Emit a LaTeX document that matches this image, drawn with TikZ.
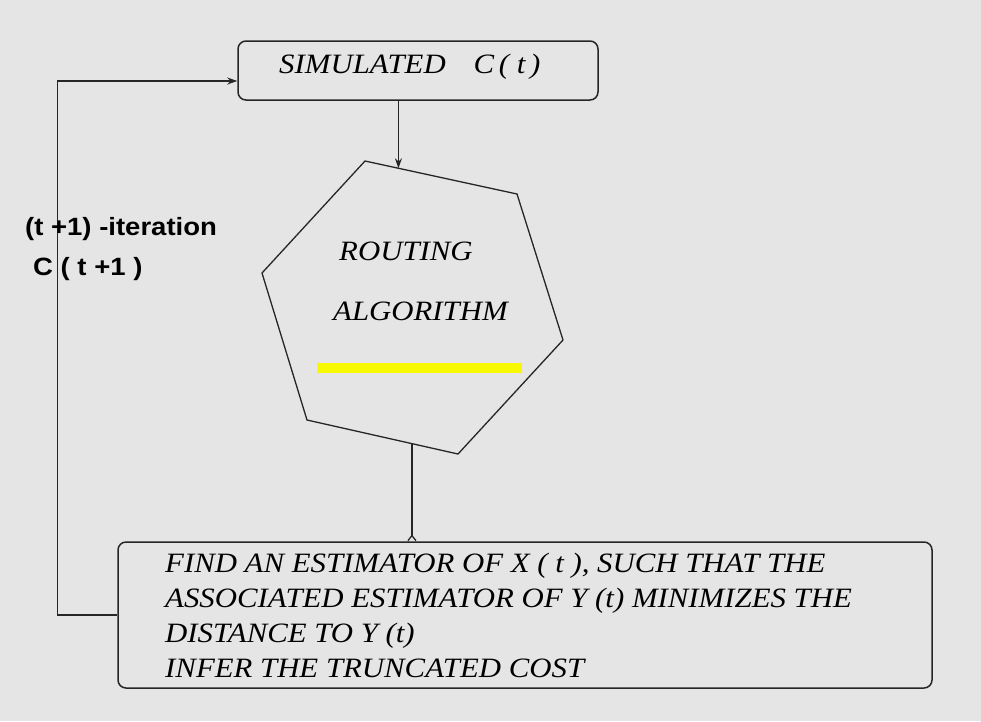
\documentclass[tikz,border=0pt]{standalone}
\usepackage{fontspec}
\setmainfont[FakeStretch=1.1]{Liberation Serif}
\newfontfamily\lblfont[FakeStretch=1.1]{Liberation Sans}
\usetikzlibrary{arrows.meta,positioning,calc}
\definecolor{bggray}{HTML}{E5E5E5}
\definecolor{ink}{HTML}{262626}
\definecolor{marker}{HTML}{F8F800}
\tikzset{
  procbox/.style={
    rectangle, rounded corners=8pt, draw=ink, line width=1.5pt,
    inner sep=0pt
  },
  boxtext/.style={
    font=\fontsize{28}{35}\selectfont\itshape, inner sep=0pt, align=left
  },
  looplabel/.style={
    font=\lblfont\bfseries\fontsize{25}{28}\selectfont, inner sep=0pt
  },
  flowarrow/.style={
    -{Stealth[length=10pt,width=7pt]}, line width=1.3pt, color=ink
  },
  hexedge/.style={
    line width=1.3pt, color=ink, line join=miter
  },
}

\begin{document}
\begin{tikzpicture}[x=1pt, y=-1pt]
  \fill[bggray] (0,0) rectangle (981,721);
  \useasboundingbox (0,0) rectangle (981,721);

  % Boxes
  \node[procbox, minimum width=360pt, minimum height=59pt] (simbox) at (418,70.5) {};
  \node[boxtext, anchor=base west] (simtxt) at (279,73) {SIMULATED\quad C\,( t\,)};

  \node[procbox, minimum width=814pt, minimum height=146pt] (estbox) at (525,615) {};
  \node[boxtext, anchor=base west] (esttxt) at (165,677)
    {FIND AN ESTIMATOR OF X ( t ), SUCH THAT THE\\
     ASSOCIATED ESTIMATOR OF Y (t) MINIMIZES THE\\
     DISTANCE TO Y (t)\\
     INFER THE TRUNCATED COST};

  % Hexagon
  \coordinate (h1) at (365,161);
  \coordinate (h2) at (517,194);
  \coordinate (h3) at (563,340);
  \coordinate (h4) at (458,454);
  \coordinate (h5) at (307,420);
  \coordinate (h6) at (262,273);
  \draw[hexedge] (h1) -- (h2) -- (h3) -- (h4) -- (h5) -- (h6) -- cycle;

  \node[boxtext, anchor=base west] (route) at (339,260) {ROUTING};
  \node[boxtext, anchor=base west] (algo) at (333,320) {ALGORITHM};
  \node[fill=marker, inner sep=0pt, minimum width=205pt, minimum height=10pt]
    (mark) at (419.5,368) {};

  % Connectors
  \coordinate (hin) at ($(h1)!0.22!(h2)$);
  \coordinate (hout) at ($(h4)!0.305!(h5)$);
  \draw[flowarrow] (simbox.south -| hin) -- (hin);
  \draw[line width=1.3pt, color=ink, -{Straight Barb[reversed,length=5pt,width=8pt]}]
    (hout) -- (hout |- estbox.north);
  \draw[flowarrow] (estbox.west) -- ++(-60,0) |- ([yshift=-10.5pt]simbox.west);

  % Loop labels
  \node[looplabel, anchor=base west] (iterlbl) at (25,235) {(t +1) -iteration};
  \node[looplabel, anchor=base west] (costlbl) at (33,275) {C ( t +1 )};
\end{tikzpicture}
\end{document}
